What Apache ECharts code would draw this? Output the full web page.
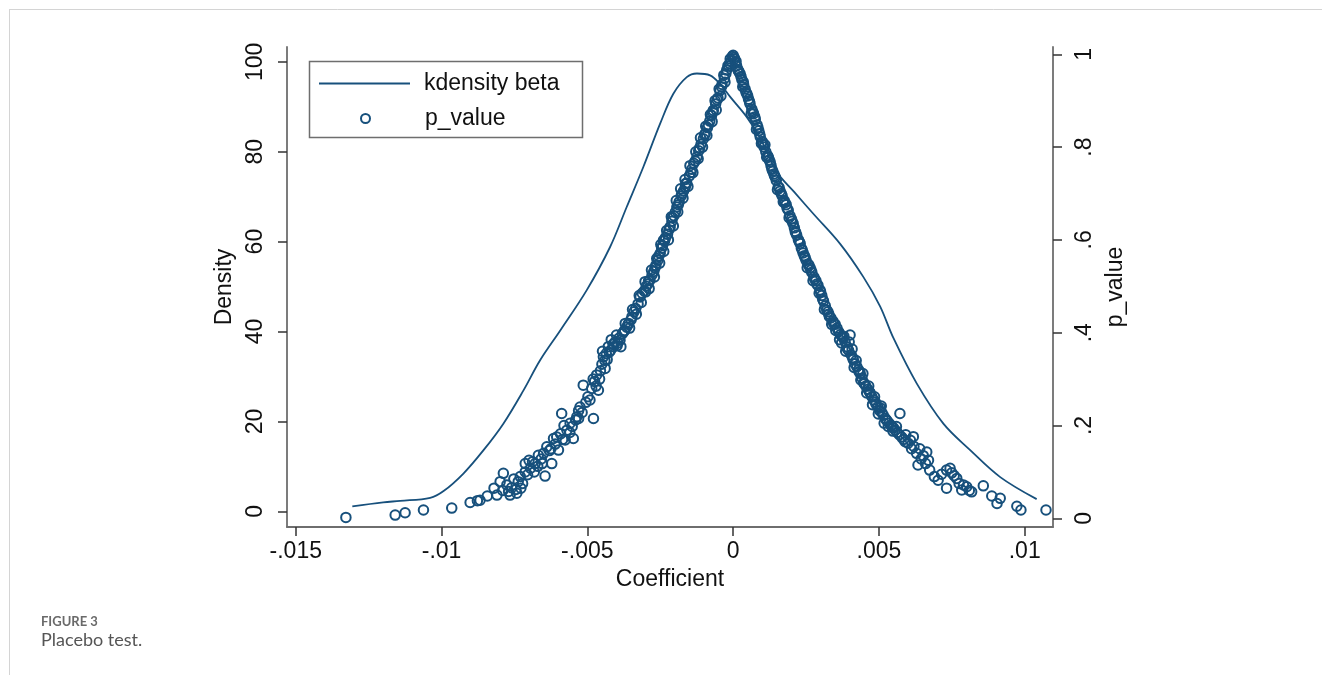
<!DOCTYPE html>
<html>
<head>
<meta charset="utf-8">
<script src="https://cdn.jsdelivr.net/npm/echarts@6/dist/echarts.min.js"></script>
<style>
html,body{margin:0;padding:0;background:#fff;}
#chart{width:1322px;height:675px;}
</style>
</head>
<body>
<div id="chart"></div>
<script>
// ---- data ----
const kdensityBeta = [
  [-0.01306,1.1],[-0.0120,2.0],[-0.01142,2.3],[-0.01039,3.0],[-0.00993,4.5],[-0.00925,8.4],
  [-0.00856,13.6],[-0.00788,19.5],[-0.00719,26.9],[-0.00662,33.6],[-0.0059,40.5],[-0.00502,49.2],
  [-0.00422,58.8],[-0.00365,67.7],[-0.00308,76.6],[-0.0025,86.3],[-0.00205,92.9],[-0.00159,96.6],
  [-0.00124,97.4],[-0.00079,97.0],[-0.00045,95.1],[-0.0001,92.2],[0.00047,87.7],[0.00093,83.0],
  [0.0015,75.5],[0.0021,71.0],[0.00275,66.2],[0.00367,59.5],[0.00447,52.1],[0.00504,45.6],
  [0.0055,38.5],[0.0063,28.4],[0.00721,19.5],[0.00813,13.6],[0.00916,7.6],[0.01041,2.7]
];
const pValueLeft = [
  [-0.01328,0.002],[-0.01159,0.007],[-0.01125,0.012],[-0.01062,0.018],[-0.00965,0.022],[-0.00902,0.034],
  [-0.00877,0.038],[-0.00868,0.039],[-0.00843,0.048],[-0.00820,0.065],[-0.00810,0.050],[-0.00799,0.079],
  [-0.00790,0.060],[-0.00788,0.097],[-0.00776,0.072],[-0.00770,0.058],[-0.00760,0.066],[-0.00752,0.085],
  [-0.00745,0.062],[-0.00742,0.054],[-0.00737,0.079],[-0.00730,0.090],[-0.00722,0.075],[-0.00713,0.118],
  [-0.00713,0.100],[-0.00705,0.094],[-0.00695,0.108],[-0.00688,0.122],[-0.00679,0.118],[-0.00670,0.112],
  [-0.00668,0.136],[-0.00658,0.128],[-0.00645,0.091],[-0.00650,0.140],[-0.00639,0.154],[-0.00630,0.146],
  [-0.00622,0.118],[-0.00616,0.172],[-0.00610,0.160],[-0.00599,0.147],[-0.00592,0.182],[-0.00588,0.226],
  [-0.00585,0.170],[-0.00576,0.169],[-0.00570,0.190],[-0.00559,0.205],[-0.00552,0.198],[-0.00548,0.172],
  [-0.00540,0.212],[-0.00536,0.219],[-0.00530,0.232],[-0.00525,0.240],[-0.00518,0.228],[-0.00514,0.287],
  [-0.00505,0.250],[-0.00498,0.262],[-0.00491,0.255],[-0.00485,0.280],[-0.00479,0.215],[-0.00475,0.295],
  [-0.00468,0.309],[-0.00462,0.276],[-0.00455,0.318],[-0.00450,0.332],[-0.00445,0.348],[-0.00439,0.323],
  [-0.00435,0.355],[-0.00428,0.370],[-0.00420,0.362],[-0.00412,0.375],[-0.00405,0.380],[-0.00398,0.372],
  [-0.00392,0.388],[-0.00388,0.384],[-0.00380,0.398],[-0.00372,0.405],[-0.00365,0.412],[-0.00358,0.420],
  [-0.00350,0.428],[-0.00347,0.434],[-0.00340,0.445],[-0.00334,0.452],[-0.00326,0.462],[-0.00319,0.477],
  [-0.00312,0.485],[-0.00305,0.490],[-0.00298,0.500],[-0.00292,0.505],[-0.00285,0.513],[-0.00278,0.525],
  [-0.00272,0.532],[-0.00265,0.545],[-0.00258,0.556],[-0.00250,0.571],[-0.00245,0.582],[-0.00239,0.599],
  [-0.00232,0.605],[-0.00225,0.612],[-0.00216,0.628],[-0.00210,0.640],[-0.00203,0.652],[-0.00193,0.671],
  [-0.00185,0.682],[-0.00178,0.695],[-0.00170,0.705],[-0.00164,0.714],[-0.00159,0.722],[-0.00150,0.738],
  [-0.00142,0.752],[-0.00135,0.765],[-0.00124,0.779],[-0.00118,0.792],[-0.00110,0.806],[-0.00102,0.818],
  [-0.00096,0.829],[-0.00088,0.842],[-0.00080,0.856],[-0.00074,0.868],[-0.00068,0.879],[-0.00060,0.893],
  [-0.00052,0.906],[-0.00045,0.922],[-0.00038,0.935],[-0.00030,0.948],[-0.00022,0.966],[-0.00015,0.975],
  [-0.00008,0.985],[-0.00003,0.995],[0.00000,0.998],
  [-0.00300,0.488],[-0.00290,0.512],[-0.00268,0.540],[-0.00255,0.565],[-0.00242,0.588],[-0.00235,0.598],
  [-0.00220,0.622],[-0.00208,0.648],[-0.00198,0.660],[-0.00188,0.676],[-0.00175,0.700],[-0.00162,0.722],
  [-0.00145,0.745],[-0.00130,0.770],[-0.00115,0.798],[-0.00098,0.826],[-0.00085,0.848],[-0.00070,0.875],
  [-0.00055,0.902],[-0.00040,0.930],[-0.00025,0.958],[-0.00012,0.980],[-0.00360,0.418],[-0.00375,0.402],
  [-0.00395,0.378],[-0.00410,0.370],[-0.00425,0.358],[-0.00440,0.340],
  [-0.00480,0.300],[-0.00470,0.285],[-0.00458,0.300],[-0.00448,0.360],[-0.00432,0.342],[-0.00418,0.385],
  [-0.00400,0.395],[-0.00385,0.370],[-0.00370,0.420],[-0.00355,0.410],[-0.00345,0.450],[-0.00332,0.440],
  [-0.00322,0.480],[-0.00315,0.465],[-0.00302,0.510],[-0.00288,0.495],[-0.00280,0.535],[-0.00270,0.520],
  [-0.00262,0.560],[-0.00252,0.550],[-0.00248,0.590],[-0.00238,0.575],[-0.00228,0.620],[-0.00222,0.600],
  [-0.00212,0.650],[-0.00205,0.630],[-0.00195,0.685],[-0.00190,0.660],[-0.00180,0.710],[-0.00172,0.690],
  [-0.00165,0.730],[-0.00155,0.715],[-0.00148,0.760],[-0.00138,0.745],[-0.00128,0.790],[-0.00120,0.775],
  [-0.00112,0.820],[-0.00105,0.800],[-0.00094,0.845],[-0.00090,0.825],[-0.00078,0.870],[-0.00072,0.855],
  [-0.00062,0.900],[-0.00058,0.880],[-0.00048,0.925],[-0.00042,0.910],[-0.00032,0.955],[-0.00028,0.940],
  [-0.00018,0.975],[-0.00010,0.990],[-0.00530,0.215],[-0.00560,0.185],[-0.00580,0.200],[-0.00605,0.175],
  [-0.00625,0.150],[-0.00655,0.118],[-0.00682,0.100],[-0.00700,0.125],[-0.00728,0.065],[-0.00765,0.050]
];
const pValueRight = [
  [0.00003,0.993],[0.00008,0.982],[0.00012,0.975],[0.00018,0.965],[0.00024,0.958],[0.00030,0.945],
  [0.00036,0.935],[0.00041,0.925],[0.00047,0.915],[0.00053,0.903],[0.00058,0.893],[0.00064,0.882],
  [0.00070,0.872],[0.00076,0.860],[0.00082,0.848],[0.00088,0.835],[0.00093,0.822],[0.00100,0.812],
  [0.00106,0.800],[0.00112,0.790],[0.00118,0.782],[0.00124,0.772],[0.00130,0.760],[0.00136,0.748],
  [0.00142,0.738],[0.00148,0.728],[0.00155,0.715],[0.00161,0.705],[0.00168,0.695],[0.00175,0.685],
  [0.00182,0.676],[0.00189,0.664],[0.00195,0.652],[0.00202,0.640],[0.00210,0.626],[0.00218,0.610],
  [0.00224,0.600],[0.00230,0.592],[0.00237,0.578],[0.00244,0.566],[0.00250,0.556],[0.00257,0.548],
  [0.00264,0.540],[0.00270,0.530],[0.00277,0.520],[0.00284,0.512],[0.00291,0.502],[0.00298,0.492],
  [0.00304,0.480],[0.00310,0.468],[0.00316,0.458],[0.00321,0.449],[0.00328,0.440],[0.00335,0.432],
  [0.00342,0.425],[0.00350,0.418],[0.00356,0.410],[0.00362,0.402],[0.00368,0.396],[0.00374,0.392],
  [0.00378,0.388],[0.00384,0.380],[0.00390,0.370],[0.00396,0.362],[0.00401,0.395],[0.00405,0.352],
  [0.00412,0.342],[0.00418,0.333],[0.00424,0.327],[0.00430,0.320],[0.00436,0.312],[0.00442,0.302],
  [0.00448,0.292],[0.00455,0.285],[0.00462,0.278],[0.00470,0.270],[0.00476,0.262],[0.00482,0.255],
  [0.00490,0.246],[0.00496,0.240],[0.00503,0.232],[0.00510,0.228],[0.00515,0.222],[0.00522,0.215],
  [0.00528,0.210],[0.00535,0.205],[0.00542,0.200],[0.00550,0.195],[0.00556,0.190],[0.00563,0.185],
  [0.00572,0.226],[0.00570,0.180],[0.00578,0.175],[0.00585,0.170],[0.00592,0.180],[0.00600,0.162],
  [0.00608,0.168],[0.00618,0.176],[0.00620,0.155],[0.00629,0.140],[0.00634,0.115],[0.00640,0.150],
  [0.00652,0.135],[0.00664,0.143],[0.00670,0.125],[0.00674,0.104],[0.00703,0.082],[0.00715,0.095],
  [0.00732,0.104],[0.00732,0.065],[0.00744,0.108],[0.00750,0.098],[0.00758,0.092],[0.00767,0.086],
  [0.00775,0.075],[0.00784,0.061],[0.00790,0.072],[0.00801,0.068],[0.00810,0.060],[0.00818,0.057],
  [0.00858,0.070],[0.00887,0.048],[0.00905,0.032],[0.00916,0.043],[0.00973,0.026],[0.00987,0.018],
  [0.01073,0.018],
  [0.00005,0.990],[0.00020,0.962],[0.00035,0.940],[0.00050,0.910],[0.00067,0.876],[0.00085,0.842],
  [0.00103,0.806],[0.00121,0.778],[0.00140,0.742],[0.00158,0.712],[0.00178,0.680],[0.00200,0.645],
  [0.00215,0.615],[0.00240,0.572],[0.00260,0.545],[0.00280,0.515],[0.00300,0.488],[0.00325,0.445],
  [0.00345,0.420],[0.00380,0.392],[0.00392,0.365],[0.00410,0.346],[0.00432,0.316],[0.00450,0.290],
  [0.00468,0.272],[0.00488,0.250],[0.00505,0.238],[0.00525,0.212],[0.00545,0.196],
  [0.00010,0.985],[0.00015,0.968],[0.00027,0.952],[0.00033,0.930],[0.00044,0.918],[0.00056,0.898],
  [0.00062,0.872],[0.00074,0.865],[0.00080,0.838],[0.00091,0.828],[0.00097,0.808],[0.00109,0.805],
  [0.00115,0.778],[0.00127,0.768],[0.00133,0.752],[0.00145,0.735],[0.00152,0.708],[0.00165,0.700],
  [0.00172,0.682],[0.00185,0.668],[0.00192,0.648],[0.00206,0.635],[0.00213,0.618],[0.00227,0.596],
  [0.00234,0.582],[0.00247,0.562],[0.00254,0.540],[0.00267,0.535],[0.00274,0.512],[0.00287,0.505],
  [0.00295,0.485],[0.00307,0.472],[0.00313,0.450],[0.00330,0.435],[0.00338,0.418],[0.00352,0.405],
  [0.00365,0.385],[0.00372,0.378],[0.00386,0.360],[0.00398,0.380],[0.00408,0.365],[0.00415,0.325],
  [0.00422,0.340],[0.00438,0.298],[0.00445,0.312],[0.00458,0.270],[0.00465,0.285],[0.00478,0.245],
  [0.00485,0.262],[0.00498,0.225],[0.00508,0.242],[0.00518,0.205],[0.00532,0.198],[0.00548,0.188],
  [0.00560,0.198],[0.00590,0.165],[0.00612,0.150],[0.00645,0.128],[0.00660,0.118],[0.00690,0.090]
];
const xTickValues = [-0.015,-0.01,-0.005,0,0.005,0.01];
const xTickLabels = ['-.015','-.01','-.005','0','.005','.01'];
const densityTickValues = [0,20,40,60,80,100];
const densityTickLabels = ['0','20','40','60','80','100'];
const pTickValues = [0,0.2,0.4,0.6,0.8,1];
const pTickLabels = ['0','.2','.4','.6','.8','1'];

// ---- chart ----
const NAVY = '#17507c';
const AXIS = '#6e6e6e';
const FONT = '"Liberation Sans", Arial, sans-serif';

function lookup(vals, labels) {
  return function (v) {
    for (let i = 0; i < vals.length; i++) {
      if (Math.abs(vals[i] - v) < 1e-9) return labels[i];
    }
    return '';
  };
}

const chart = echarts.init(document.getElementById('chart'), null, {renderer: 'canvas'});
const labelStyle = {color: '#111', fontSize: 23, fontFamily: FONT};
const tickStyle = {show: true, length: 9, lineStyle: {color: '#333', width: 1.5}};

chart.setOption({
  backgroundColor: '#fff',
  animation: false,
  grid: {left: 287, right: 269, top: 47, bottom: 148, containLabel: false},
  xAxis: {
    type: 'value', min: -0.0153, max: 0.01097,
    name: 'Coefficient', nameLocation: 'middle', nameGap: 40,
    nameTextStyle: {color: '#111', fontSize: 23, fontFamily: FONT},
    axisLine: {show: true, onZero: false, lineStyle: {color: AXIS, width: 1.8}},
    axisTick: Object.assign({customValues: xTickValues}, tickStyle),
    axisLabel: Object.assign({customValues: xTickValues, margin: 13,
      formatter: lookup(xTickValues, xTickLabels)}, labelStyle),
    splitLine: {show: false}
  },
  yAxis: [{
    type: 'value', min: -3.5, max: 103.3, position: 'left',
    name: 'Density', nameLocation: 'middle', nameGap: 44,
    nameTextStyle: {color: '#111', fontSize: 23, fontFamily: FONT},
    axisLine: {show: true, onZero: false, lineStyle: {color: AXIS, width: 1.8}},
    axisTick: Object.assign({customValues: densityTickValues}, tickStyle),
    axisLabel: Object.assign({customValues: densityTickValues, rotate: 90, margin: 20,
      formatter: lookup(densityTickValues, densityTickLabels)}, labelStyle),
    splitLine: {show: false}
  }, {
    type: 'value', min: -0.0187, max: 1.0157, position: 'right',
    name: 'p_value', nameLocation: 'middle', nameGap: 49,
    nameTextStyle: {color: '#111', fontSize: 23, fontFamily: FONT},
    axisLine: {show: true, onZero: false, lineStyle: {color: AXIS, width: 1.8}},
    axisTick: Object.assign({customValues: pTickValues}, tickStyle),
    axisLabel: Object.assign({customValues: pTickValues, rotate: 90, margin: 20,
      formatter: lookup(pTickValues, pTickLabels)}, labelStyle),
    splitLine: {show: false}
  }],
  legend: [{
    data: [{name: 'kdensity beta', icon: 'rect', itemStyle: {color: NAVY, borderWidth: 0}}],
    orient: 'vertical', left: 319, top: 72,
    padding: 0, itemWidth: 91, itemHeight: 2, selectedMode: false,
    textStyle: {color: '#111', fontSize: 23, fontFamily: FONT, padding: [0, 0, 0, 9]}
  }, {
    data: [{name: 'p_value', icon: 'circle',
      itemStyle: {color: 'transparent', borderColor: NAVY, borderWidth: 2}}],
    orient: 'vertical', left: 360, top: 107,
    padding: 0, itemWidth: 9, itemHeight: 9, selectedMode: false,
    textStyle: {color: '#111', fontSize: 23, fontFamily: FONT, padding: [0, 0, 0, 50]}
  }],
  graphic: [
    {type: 'rect', shape: {x: 309.5, y: 61.5, width: 273, height: 76},
     style: {fill: 'none', stroke: '#6e6e6e', lineWidth: 1.5}, z: 10},
    {type: 'line', shape: {x1: 9, y1: 9.5, x2: 1322, y2: 9.5},
     style: {stroke: '#d4d4d4', lineWidth: 1}},
    {type: 'line', shape: {x1: 9.5, y1: 9, x2: 9.5, y2: 675},
     style: {stroke: '#d4d4d4', lineWidth: 1}},
    {type: 'text', left: 41, top: 615,
     style: {text: 'FIGURE 3', fill: '#6a6a6a', font: 'bold 13px Lato, "Open Sans", sans-serif'}},
    {type: 'text', left: 41, top: 631,
     style: {text: 'Placebo test.', fill: '#555', font: '18px Lato, "Open Sans", sans-serif'}}
  ],
  series: [{
    name: 'kdensity beta', type: 'line', yAxisIndex: 0,
    data: kdensityBeta, smooth: 0.35, symbol: 'none',
    lineStyle: {color: NAVY, width: 1.8}, itemStyle: {color: NAVY}, z: 3
  }, {
    name: 'p_value', type: 'scatter', yAxisIndex: 1,
    data: pValueLeft.concat(pValueRight), symbol: 'circle', symbolSize: 9.5,
    itemStyle: {color: 'transparent', borderColor: NAVY, borderWidth: 2, opacity: 1}, z: 2
  }]
});
</script>
</body>
</html>
